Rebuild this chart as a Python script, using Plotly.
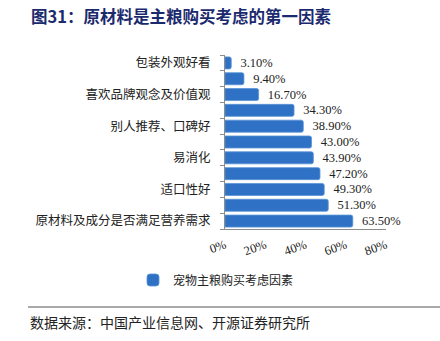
import plotly.graph_objects as go

# Purchase-consideration factors for pet staple food (top to bottom)
categories = ["包装外观好看", "", "喜欢品牌观念及价值观", "", "别人推荐、口碑好", "",
              "易消化", "", "适口性好", "", "原材料及成分是否满足营养需求"]
shares = [3.10, 9.40, 16.70, 34.30, 38.90, 43.00, 43.90, 47.20, 49.30, 51.30, 63.50]
x_ticks = [0, 20, 40, 60, 80]
x_tick_labels = ["0%", "20%", "40%", "60%", "80%"]
series_name = "宠物主粮购买考虑因素"

W, H = 440, 341
L, R, T, B = 225, 386, 55, 229  # plot area in pixels


def px_x(p):
    return (p - L) / (R - L)


def px_y(p):
    return (B - p) / (B - T)


idx = list(range(len(categories)))
shown = [i for i, c in enumerate(categories) if c]

fig = go.Figure()
fig.add_trace(go.Bar(
    x=shares,
    y=idx,
    orientation="h",
    width=0.76,
    name=series_name,
    marker=dict(color="#2F72C5", line=dict(color="#5B93D6", width=0.8), cornerradius=2),
    text=[f"\u00a0\u00a0{v:.2f}%" for v in shares],
    textposition="outside",
    constraintext="none",
    cliponaxis=False,
    textfont=dict(family="Liberation Serif", size=12.5, color="#222222"),
    showlegend=True,
))

fig.update_layout(
    width=W, height=H,
    margin=dict(l=L, r=W - R, t=T, b=H - B, pad=0),
    paper_bgcolor="white",
    plot_bgcolor="white",
    bargap=0.24,
    xaxis=dict(
        range=[0, 80],
        tickvals=x_ticks,
        ticktext=x_tick_labels,
        tickangle=-20,
        ticks="",
        showgrid=False,
        zeroline=False,
        showline=True,
        linecolor="#8C8C8C",
        linewidth=1,
        ticklabelstandoff=3,
        tickfont=dict(family="Liberation Serif", size=12.5, color="#222222"),
        fixedrange=True,
    ),
    yaxis=dict(
        range=[len(categories) - 0.5, -0.5],
        tickvals=shown,
        ticktext=[categories[i] for i in shown],
        ticks="",
        ticklabelstandoff=11,
        showgrid=False,
        zeroline=False,
        showline=True,
        linecolor="#8C8C8C",
        linewidth=1,
        minor=dict(
            tickvals=[i - 0.5 for i in range(len(categories) + 1)],
            ticks="outside",
            ticklen=4,
            tickcolor="#8C8C8C",
            tickwidth=1,
        ),
        tickfont=dict(family="Noto Sans CJK SC", size=12.5, color="#222222"),
        fixedrange=True,
    ),
    legend=dict(
        orientation="h",
        x=px_x(216), xanchor="center",
        y=px_y(280), yanchor="middle",
        font=dict(family="Noto Sans CJK SC", size=12, color="#222222"),
        itemwidth=30,
        bgcolor="rgba(0,0,0,0)",
    ),
    annotations=[
        dict(
            text="<b>图31：原材料是主粮购买考虑的第一因素</b>",
            xref="paper", yref="paper",
            x=px_x(29), y=px_y(16),
            xanchor="left", yanchor="middle",
            showarrow=False,
            font=dict(family="Noto Sans CJK SC", size=16.5, color="#1B2A6E"),
        ),
        dict(
            text="数据来源：中国产业信息网、开源证券研究所",
            xref="paper", yref="paper",
            x=px_x(28), y=px_y(322),
            xanchor="left", yanchor="middle",
            showarrow=False,
            font=dict(family="Noto Sans CJK SC", size=14, color="#222222"),
        ),
    ],
    shapes=[
        dict(
            type="line", xref="paper", yref="paper",
            x0=px_x(28), x1=px_x(440), y0=px_y(307), y1=px_y(307),
            line=dict(color="#8C8C8C", width=1.5),
        )
    ],
)

fig.write_html("out.html")
